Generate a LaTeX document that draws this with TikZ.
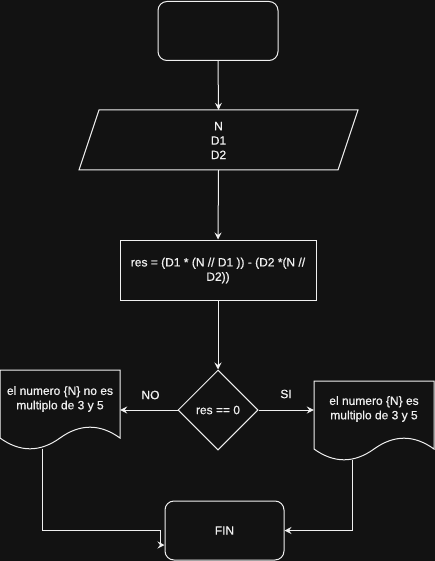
\documentclass[tikz,border=0pt]{standalone}
\usepackage{fontspec}
\setmainfont{Liberation Sans}[FakeBold=0.7]
\usetikzlibrary{arrows.meta,shapes.geometric}
\definecolor{bg}{RGB}{18,18,18}
\definecolor{fg}{RGB}{240,240,240}
\tikzset{
  ln/.style={draw=fg, line width=1pt},
  arr/.style={ln, -{Stealth[length=7pt,width=7pt,inset=2.5pt]}},
  txt/.style={text=fg, font=\fontsize{12}{14.4}\selectfont, align=center, inner sep=0pt},
  term/.style={ln, rounded corners=9pt, inner sep=0pt},
  box/.style={inner sep=0pt, draw=none},
  procbox/.style={ln, inner sep=0pt},
  decbox/.style={ln, diamond, inner sep=0pt, minimum width=80pt, minimum height=80pt},
}
\begin{document}
\begin{tikzpicture}[x=1pt,y=-1pt]
\fill[bg] (0,0) rectangle (435,561);
\useasboundingbox (0,0) rectangle (435,561);

% start
\node[term, minimum width=120pt, minimum height=59pt] (start) at (218,31) {};

% input parallelogram
\draw[ln] (99,110) -- (358,110) -- (338,170) -- (79,170) -- cycle;
\node[box, minimum width=259pt, minimum height=60pt] (inp) at (218.5,140) {};
\node[txt] (inptxt) at (218.5,140.5) {N\\D1\\D2};

% process
\node[procbox, minimum width=196pt, minimum height=60pt] (proc) at (218,270) {};
\node[txt] (proctxt) at (218,270.5) {res = (D1 * (N // D1 )) - (D2 *(N //\\D2))};

% decision
\node[decbox] (dec) at (218,410) {};
\node[txt] (dectxt) at (218,410) {res == 0};

% left document
\draw[ln] (0,370) -- (120,370) -- (120,438) .. controls (100,423.6) and (80,423.6) .. (60,438) .. controls (40,452.4) and (20,452.4) .. (0,438) -- cycle;
\node[box, minimum width=120pt, minimum height=80pt] (docL) at (60,410) {};
\node[txt] (docLtxt) at (60,399) {el numero \{N\} no es\\multiplo de 3 y 5};
\coordinate (docLb) at (42,448.5);

% right document
\draw[ln] (314,381) -- (434,381) -- (434,449) .. controls (414,434.6) and (394,434.6) .. (374,449) .. controls (354,463.4) and (334,463.4) .. (314,449) -- cycle;
\node[box, minimum width=120pt, minimum height=80pt] (docR) at (374,421) {};
\node[txt] (docRtxt) at (374,409) {el numero \{N\} es\\multiplo de 3 y 5};
\coordinate (docRb) at (352,459.5);

% end
\node[term, minimum width=119pt, minimum height=59pt] (fin) at (224.5,530.5) {};
\node[txt] (fintxt) at (224.5,530.5) {FIN};

% labels
\node[txt] (no) at (150.5,395) {NO};
\node[txt] (si) at (286,394) {SI};

% connectors
\draw[arr] (start.south) -- (inp.north);
\draw[arr] (inp.south) -- (proc.north);
\draw[arr] (proc.south) -- (dec.north);
\draw[arr] (dec.west) -- (docL.east);
\draw[arr] (dec.east) -- (dec.east -| docR.west);
\coordinate (l1) at (42,530);
\coordinate (l2) at (160,530);
\coordinate (l3) at (160,545);
\draw[arr] (docLb) -- (l1) -- (l2) -- (l3) -- (l3 -| fin.west);
\draw[arr] (docRb) |- (fin.east);
\end{tikzpicture}
\end{document}
